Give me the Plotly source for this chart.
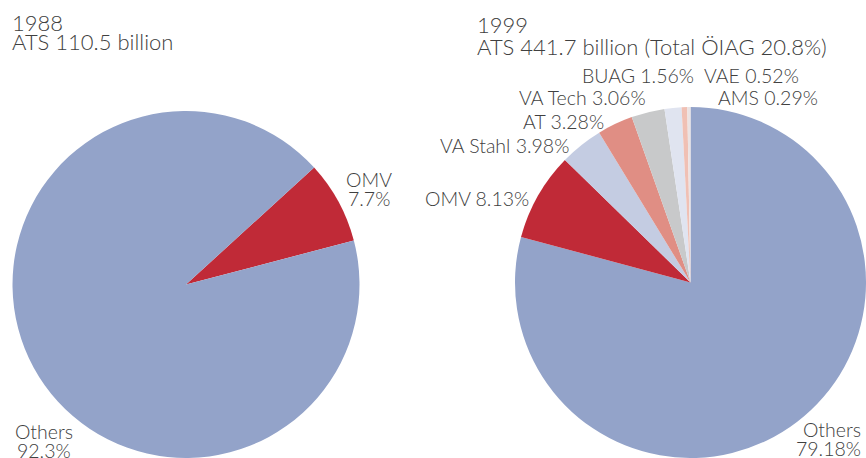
import plotly.graph_objects as go

W, H = 866, 458

# 1988
labels_1988 = ["OMV", "Others"]
values_1988 = [7.7, 92.3]
colors_1988 = ["#c02a37", "#93a3c9"]

# 1999
labels_1999 = ["Others", "OMV", "VA Stahl", "AT", "VA Tech", "BUAG", "VAE", "AMS"]
values_1999 = [79.18, 8.13, 3.98, 3.28, 3.06, 1.56, 0.52, 0.29]
colors_1999 = ["#93a3c9", "#c02a37", "#c4cce2", "#e08e84", "#c8c9ca", "#e0e4f0", "#f0c0b4", "#ebe3e3"]

title_1988 = ["1988", "ATS 110.5 billion"]
title_1999 = ["1999", "ATS 441.7 billion (Total ÖIAG 20.8%)"]

FONT = dict(family="Lato", size=19.5, color="#404040", weight=300)
TFONT = dict(family="Lato", size=22, color="#404040", weight=300)

fig = go.Figure()
fig.add_trace(go.Pie(
    labels=labels_1988, values=values_1988, sort=False, direction="clockwise",
    rotation=47.6, marker=dict(colors=colors_1988, line=dict(width=0)),
    textinfo="none", hoverinfo="label+percent", showlegend=False,
    domain=dict(x=[12 / W, 360 / W], y=[0, 1 - 111 / H]),
))
fig.add_trace(go.Pie(
    labels=labels_1999, values=values_1999, sort=False, direction="clockwise",
    rotation=0, marker=dict(colors=colors_1999, line=dict(width=0)),
    textinfo="none", hoverinfo="label+percent", showlegend=False,
    domain=dict(x=[515 / W, 866 / W], y=[0, 1 - 107 / H]),
))


def ann(text, px, py, xanchor="left", font=FONT):
    fig.add_annotation(text=text, x=px / W, y=1 - py / H, xref="paper", yref="paper",
                       xanchor=xanchor, yanchor="middle", showarrow=False, font=font,
                       borderpad=0)


# titles
ann(title_1988[0], 11, 22, font=TFONT)
ann(title_1988[1], 11, 41, font=TFONT)
ann(title_1999[0], 476, 24, font=TFONT)
ann(title_1999[1], 476, 47, font=TFONT)

# 1988 labels
ann(labels_1988[0], 369, 179, "center")
ann(f"{values_1988[0]}%", 369, 198, "center")
ann(labels_1988[1], 44, 431, "center")
ann(f"{values_1988[1]}%", 44, 450, "center")

# 1999 labels
ann(f"{labels_1999[5]} {values_1999[5]}%", 695, 76, "right")
ann(f"{labels_1999[6]} {values_1999[6]}%", 703, 76, "left")
ann(f"{labels_1999[7]} {values_1999[7]}%", 717, 98, "left")
ann(f"{labels_1999[4]} {values_1999[4]}%", 647, 98, "right")
ann(f"{labels_1999[3]} {values_1999[3]}%", 605, 121, "right")
ann(f"{labels_1999[2]} {values_1999[2]}%", 570, 145, "right")
ann(f"{labels_1999[1]} {values_1999[1]}%", 530, 199, "right")
ann(labels_1999[0], 862, 429, "right")
ann(f"{values_1999[0]}%", 862, 448, "right")

fig.update_layout(width=W, height=H, margin=dict(l=0, r=0, t=0, b=0),
                  paper_bgcolor="white", plot_bgcolor="white")
fig.write_html("out.html", config={"displayModeBar": False},
               post_script="document.body.style.margin='0px';")
